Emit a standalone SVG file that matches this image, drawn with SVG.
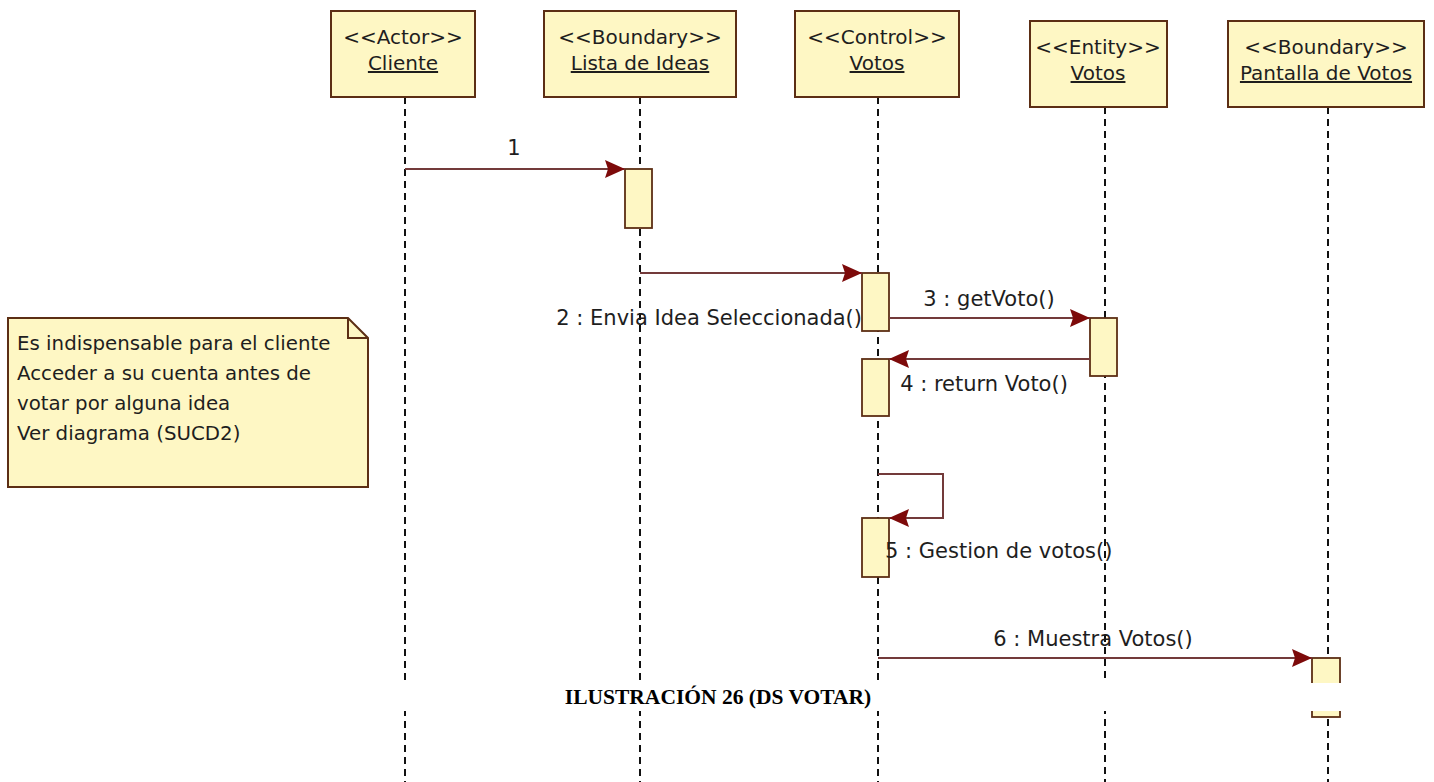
<svg xmlns="http://www.w3.org/2000/svg" width="1434" height="782" viewBox="0 0 1434 782">
<style>
.box{fill:#fef7c4;stroke:#5c2e14;stroke-width:2}
.act{fill:#fef7c4;stroke:#5c2e14;stroke-width:1.8}
.life{stroke:#111;stroke-width:2;stroke-dasharray:7 5;fill:none}
.msg{stroke:#733a3a;stroke-width:2;fill:none}
.t{font-family:"DejaVu Sans",Verdana,sans-serif;font-size:20px;fill:#1e1e1e}
.m{font-family:"DejaVu Sans",Verdana,sans-serif;font-size:21px;fill:#1e1e1e}
.c{text-anchor:middle}
.u{text-decoration:underline}
.n{font-family:"DejaVu Sans",Verdana,sans-serif;font-size:19.8px;fill:#1e1e1e}
.cap{font-family:"Liberation Serif","Times New Roman",serif;font-weight:bold;font-size:21.5px;fill:#000;text-anchor:middle}
</style>
<defs>
<marker id="ah" markerUnits="userSpaceOnUse" markerWidth="22" markerHeight="20" refX="20" refY="9" orient="auto">
<path d="M0,0 L20,9 L0,18 L3,9 Z" fill="#7d0a0a"/>
</marker>
</defs>
<rect width="1434" height="782" fill="#fff"/>

<g id="cliente">
<line class="life" x1="405" y1="97" x2="405" y2="782"/>
<rect class="box" x="331" y="11" width="144" height="86"/>
<text class="t c" x="403" y="44">&lt;&lt;Actor&gt;&gt;</text>
<text class="t c u" x="403" y="70">Cliente</text>
</g>

<g id="lista-ideas">
<line class="life" x1="640" y1="97" x2="640" y2="782"/>
<rect class="box" x="544" y="11" width="192" height="86"/>
<text class="t c" x="640" y="44">&lt;&lt;Boundary&gt;&gt;</text>
<text class="t c u" x="640" y="70">Lista de Ideas</text>
<rect class="act" x="625" y="169" width="27" height="59"/>
</g>

<g id="control-votos">
<line class="life" x1="878" y1="97" x2="878" y2="782"/>
<rect class="box" x="795" y="11" width="164" height="86"/>
<text class="t c" x="877" y="44">&lt;&lt;Control&gt;&gt;</text>
<text class="t c u" x="877" y="70">Votos</text>
<rect class="act" x="862" y="273" width="27" height="58"/>
<rect class="act" x="862" y="359" width="27" height="57"/>
<rect class="act" x="862" y="518" width="27" height="59"/>
</g>

<g id="entity-votos">
<line class="life" x1="1105" y1="107" x2="1105" y2="782"/>
<rect class="box" x="1030" y="21" width="137" height="86"/>
<text class="t c" x="1098" y="54">&lt;&lt;Entity&gt;&gt;</text>
<text class="t c u" x="1098" y="80">Votos</text>
<rect class="act" x="1090" y="318" width="27" height="58"/>
</g>

<g id="pantalla-votos">
<line class="life" x1="1328" y1="107" x2="1328" y2="782"/>
<rect class="box" x="1228" y="21" width="196" height="86"/>
<text class="t c" x="1326" y="54">&lt;&lt;Boundary&gt;&gt;</text>
<text class="t c u" x="1326" y="80">Pantalla de Votos</text>
<rect class="act" x="1312" y="658" width="28" height="59"/>
</g>

<g id="note">
<path class="box" d="M8,318 H348 L368,338 V487 H8 Z"/>
<path d="M348,318 V338 H368" fill="none" stroke="#5c2e14" stroke-width="2"/>
<text class="n" x="17" y="350">Es indispensable para el cliente</text>
<text class="n" x="17" y="380">Acceder a su cuenta antes de</text>
<text class="n" x="17" y="410">votar por alguna idea</text>
<text class="n" x="17" y="440">Ver diagrama (SUCD2)</text>
</g>

<g id="connectors">
<line class="msg" x1="405" y1="169" x2="625" y2="169" marker-end="url(#ah)"/>
<line class="msg" x1="640" y1="273" x2="862" y2="273" marker-end="url(#ah)"/>
<line class="msg" x1="889" y1="318" x2="1090" y2="318" marker-end="url(#ah)"/>
<line class="msg" x1="1090" y1="359" x2="889" y2="359" marker-end="url(#ah)"/>
<path class="msg" d="M878,474 H943 V518 H889" marker-end="url(#ah)"/>
<line class="msg" x1="878" y1="658" x2="1312" y2="658" marker-end="url(#ah)"/>
<text class="m c" x="514" y="155">1</text>
<text class="m" x="862" y="325" text-anchor="end">2 : Envia Idea Seleccionada()</text>
<text class="m c" x="989" y="306">3 : getVoto()</text>
<text class="m c" x="984" y="391">4 : return Voto()</text>
<text class="m" x="885" y="558">5 : Gestion de votos()</text>
<text class="m c" x="1093" y="646">6 : Muestra Votos()</text>
</g>

<rect x="0" y="683" width="1434" height="28" fill="#fff"/>
<text class="cap" x="718" y="704">ILUSTRACIÓN 26 (DS VOTAR)</text>
</svg>
